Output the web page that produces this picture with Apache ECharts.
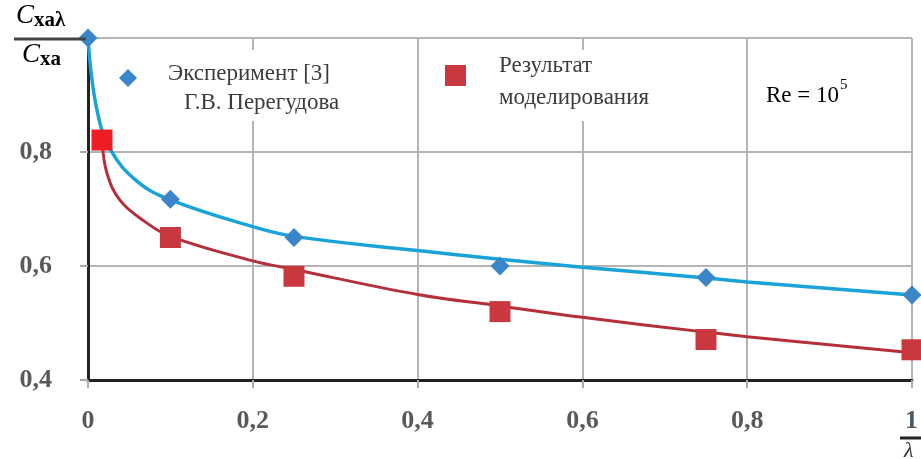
<!DOCTYPE html>
<html><head><meta charset="utf-8">
<script src="https://cdn.jsdelivr.net/npm/echarts@6/dist/echarts.min.js"></script>
<style>html,body{margin:0;padding:0;background:#fff}#c{width:921px;height:459px}</style>
</head><body><div id="c"></div>
<script>
// Tick labels
const xTicks = [0, 0.2, 0.4, 0.6, 0.8, 1.0];
const yTicks = [0.4, 0.6, 0.8, 1.0];
// Experiment [3] (Peregudova) — diamonds
const expX = [0, 0.1, 0.25, 0.5, 0.75, 1.0];
const expY = [1.0, 0.717, 0.65, 0.60, 0.58, 0.549];
const expCurveX = [0, 0.01, 0.027, 0.06, 0.1, 0.2, 0.25, 0.4, 0.5, 0.6, 0.75, 0.8, 1.0];
const expCurveY = [1.0, 0.88, 0.805, 0.748, 0.716, 0.669, 0.652, 0.627, 0.612, 0.598, 0.579, 0.572, 0.549];
// Modelling result — squares
const modX = [0.017, 0.1, 0.25, 0.5, 0.75, 1.0];
const modY = [0.821, 0.65, 0.582, 0.52, 0.471, 0.453];
// Modelling trend curve
const modCurveX = [0.017, 0.023, 0.039, 0.067, 0.1, 0.2, 0.25, 0.4, 0.5, 0.6, 0.75, 0.8, 1.0];
const modCurveY = [0.821, 0.763, 0.715, 0.68, 0.652, 0.609, 0.594, 0.55, 0.53, 0.51, 0.484, 0.476, 0.448];

const zip = (a, b) => a.map((v, i) => [v, b[i]]);
const comma = v => String(Math.round(v * 10) / 10).replace('.', ',');
const serif = '"Liberation Serif", "DejaVu Serif", serif';

const chart = echarts.init(document.getElementById('c'));
chart.setOption({
  animation: false,
  grid: { left: 88, right: 9, top: 38, bottom: 79, show: false },
  xAxis: {
    type: 'value', min: 0, max: 1, interval: 0.2,
    axisLine: { show: true, onZero: false, lineStyle: { color: '#222', width: 3 } },
    axisTick: { show: true, length: 8, lineStyle: { color: '#aaa', width: 2 } },
    splitLine: { show: true, lineStyle: { color: '#b4b4b4', width: 2 } },
    axisLabel: {
      margin: 28, color: '#595959', fontFamily: serif, fontSize: 26, fontWeight: 'bold',
      formatter: v => (v >= 1 ? '' : comma(v))
    }
  },
  yAxis: {
    type: 'value', min: 0.4, max: 1.0, interval: 0.2,
    axisLine: { show: true, onZero: false, lineStyle: { color: '#222', width: 3 } },
    axisTick: { show: true, length: 8, lineStyle: { color: '#aaa', width: 2 } },
    splitLine: { show: true, lineStyle: { color: '#b4b4b4', width: 2 } },
    axisLabel: {
      margin: 36, color: '#595959', fontFamily: serif, fontSize: 26, fontWeight: 'bold',
      formatter: v => (v >= 1 ? '' : comma(v))
    }
  },
  series: [
    { type: 'line', data: zip(expCurveX, expCurveY), smooth: 0.4, showSymbol: false, symbol: 'none',
      lineStyle: { color: '#1aa3d9', width: 3.5 }, z: 3 },
    { type: 'line', data: zip(modCurveX, modCurveY), smooth: 0.4, showSymbol: false, symbol: 'none',
      lineStyle: { color: '#b52f3a', width: 3 }, z: 3 },
    { type: 'scatter', data: zip(expX, expY), symbol: 'diamond', symbolSize: 19,
      itemStyle: { color: '#3a86c8', opacity: 1 }, z: 4 },
    { type: 'scatter', symbol: 'rect', symbolSize: 21,
      data: zip(modX, modY).map((p, i) => ({ value: p, itemStyle: { color: i === 0 ? '#ee1c24' : '#c8383e', opacity: 1 } })),
      itemStyle: { color: '#c8383e', opacity: 1 }, z: 4 }
  ],
  graphic: [
    // legend panel background (grid lines at 0.4 and 0.8 remain visible as separators)
    { type: 'rect', z: 1, shape: { x: 96, y: 50, width: 314, height: 71 }, style: { fill: '#fff' } },
    { type: 'rect', z: 1, shape: { x: 422, y: 50, width: 320, height: 71 }, style: { fill: '#fff' } },
    { type: 'rect', z: 1, shape: { x: 752, y: 50, width: 154, height: 71 }, style: { fill: '#fff' } },
    // legend markers
    { type: 'polygon', z: 5, shape: { points: [[128, 69], [137, 78], [128, 87], [119, 78]] }, style: { fill: '#3a86c8' } },
    { type: 'rect', z: 5, shape: { x: 445, y: 65, width: 21, height: 21 }, style: { fill: '#c8383e' } },
    // legend texts
    { type: 'text', z: 5, left: 168, top: 62, style: { text: 'Эксперимент [3]', font: '23px ' + serif, fill: '#3c3c3c' } },
    { type: 'text', z: 5, left: 184, top: 91, style: { text: 'Г.В. Перегудова', font: '23px ' + serif, fill: '#3c3c3c' } },
    { type: 'text', z: 5, left: 499, top: 54, style: { text: 'Результат', font: '23px ' + serif, fill: '#3c3c3c' } },
    { type: 'text', z: 5, left: 499, top: 86, style: { text: 'моделирования', font: '23px ' + serif, fill: '#3c3c3c' } },
    { type: 'text', z: 5, left: 766, top: 78, style: {
        text: '{b|Re = 10}{s|5}', rich: {
          b: { fontFamily: serif, fontSize: 23, color: '#333', verticalAlign: 'bottom' },
          s: { fontFamily: serif, fontSize: 15, color: '#333', verticalAlign: 'top', padding: [0, 0, 14, 1] }
        } } },
    // y-axis title fraction C_xaλ / C_xa
    { type: 'text', z: 5, left: 16, top: 2, style: {
        text: '{c|C}{sub|xaλ}', rich: {
          c: { fontFamily: serif, fontSize: 27, fontStyle: 'italic', color: '#333' },
          sub: { fontFamily: serif, fontSize: 21, fontWeight: 'bold', color: '#333', padding: [10, 0, 0, 0] }
        } } },
    { type: 'line', z: 5, shape: { x1: 14, y1: 39, x2: 86, y2: 39 }, style: { stroke: '#444', lineWidth: 3 } },
    { type: 'text', z: 5, left: 22, top: 41, style: {
        text: '{c|C}{sub|xa}', rich: {
          c: { fontFamily: serif, fontSize: 27, fontStyle: 'italic', color: '#333' },
          sub: { fontFamily: serif, fontSize: 21, fontWeight: 'bold', color: '#333', padding: [10, 0, 0, 0] }
        } } },
    // x-axis title fraction 1/λ (cut at right edge)
    { type: 'text', z: 5, left: 905, top: 408, style: { text: '1', font: 'bold 26px ' + serif, fill: '#4a5a66' } },
    { type: 'line', z: 5, shape: { x1: 900, y1: 438, x2: 921, y2: 438 }, style: { stroke: '#222', lineWidth: 3 } },
    { type: 'text', z: 5, left: 904, top: 440, style: { text: 'λ', font: 'italic 22px ' + serif, fill: '#333' } }
  ]
});
</script></body></html>
